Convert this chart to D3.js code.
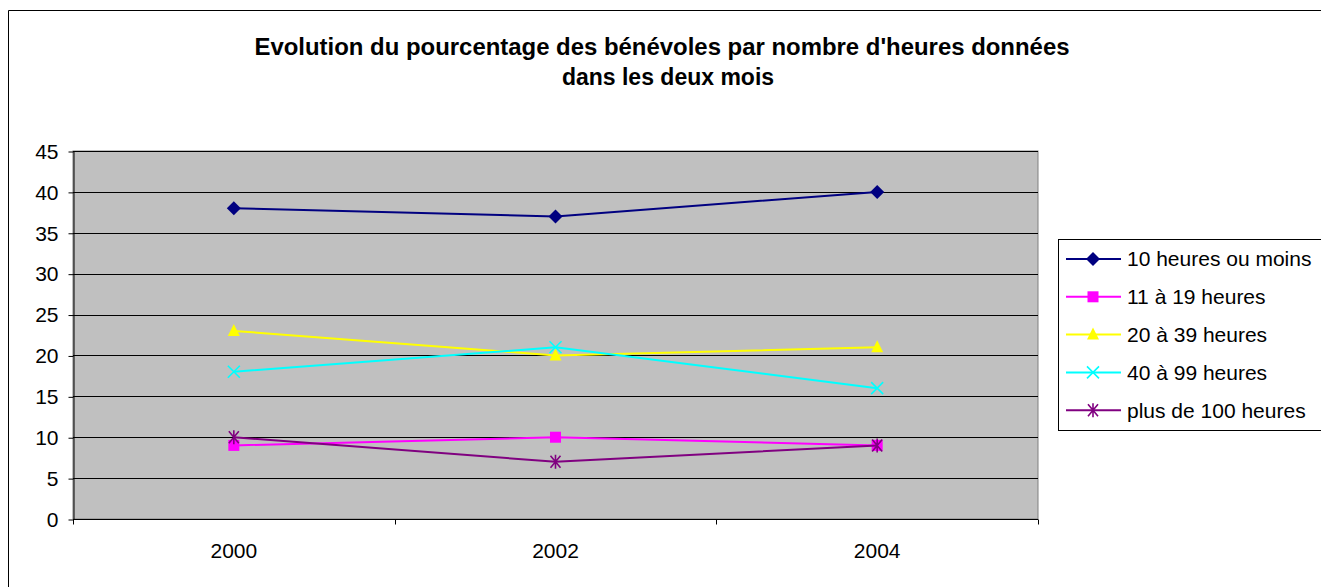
<!DOCTYPE html>
<html>
<head>
<meta charset="utf-8">
<script src="https://cdn.jsdelivr.net/npm/d3@7"></script>
<style>
  body { margin: 0; background: #fff; }
  svg { display: block; font-family: "Liberation Sans", Arial, sans-serif; }
</style>
</head>
<body>
<svg id="chart" width="1321" height="587"></svg>
<script>
// data
const years = ["2000", "2002", "2004"];
const seriesNames = ["10 heures ou moins", "11 à 19 heures", "20 à 39 heures", "40 à 99 heures", "plus de 100 heures"];
const h10 = [38, 37, 40];
const h11_19 = [9, 10, 9];
const h20_39 = [23, 20, 21];
const h40_99 = [18, 21, 16];
const h100 = [10, 7, 9];
const yTicks = [0, 5, 10, 15, 20, 25, 30, 35, 40, 45];

const series = [
  { name: seriesNames[0], values: h10, color: "#000080", symbol: "diamond" },
  { name: seriesNames[1], values: h11_19, color: "#FF00FF", symbol: "square" },
  { name: seriesNames[2], values: h20_39, color: "#FFFF00", symbol: "triangle" },
  { name: seriesNames[3], values: h40_99, color: "#00FFFF", symbol: "x" },
  { name: seriesNames[4], values: h100, color: "#800080", symbol: "star" }
];

const svg = d3.select("#chart");

// outer chart border (only top/left visible)
svg.append("path")
  .attr("d", "M8.5,587 V10.5 H1321")
  .attr("fill", "none")
  .attr("stroke", "#000")
  .attr("stroke-width", 1);

// title
svg.append("text")
  .attr("x", 662).attr("y", 55)
  .attr("text-anchor", "middle")
  .style("font-size", "23px").style("font-weight", "bold")
  .attr("textLength", 815).attr("lengthAdjust", "spacingAndGlyphs")
  .text("Evolution du pourcentage des bénévoles par nombre d'heures données");
svg.append("text")
  .attr("x", 668).attr("y", 85)
  .attr("text-anchor", "middle")
  .style("font-size", "23px").style("font-weight", "bold")
  .text("dans les deux mois");

// plot area
const plot = { left: 73, right: 1038, top: 151, bottom: 519 };

const x = d3.scaleBand().domain(years).range([plot.left, plot.right]);
const y = d3.scaleLinear().domain([0, 45]).range([plot.bottom, plot.top]);

svg.append("rect")
  .attr("x", plot.left).attr("y", plot.top)
  .attr("width", plot.right - plot.left).attr("height", plot.bottom - plot.top)
  .attr("fill", "#C0C0C0")
  .attr("stroke", "#808080");

// gridlines
svg.append("g")
  .selectAll("line")
  .data(yTicks.filter(d => d > 0))
  .join("line")
  .attr("x1", plot.left).attr("x2", plot.right)
  .attr("y1", d => Math.round(y(d)) + 0.5).attr("y2", d => Math.round(y(d)) + 0.5)
  .attr("stroke", "#000");

// y axis
const yAxis = svg.append("g")
  .attr("transform", `translate(${plot.left + 0.5},0.5)`)
  .call(d3.axisLeft(y).tickValues(yTicks).tickSize(5).tickPadding(10).tickSizeOuter(0));
yAxis.select(".domain").attr("stroke", "#000");
yAxis.selectAll("text").style("font-size", "21px").attr("fill", "#000")
  .attr("font-family", "Liberation Sans, Arial, sans-serif");

// x axis with ticks on band edges
const xAxis = svg.append("g")
  .attr("transform", `translate(0,${plot.bottom + 0.5})`);
xAxis.append("line")
  .attr("x1", plot.left).attr("x2", plot.right)
  .attr("stroke", "#000");
const edges = years.map(d => x(d)).concat([x(years[years.length - 1]) + x.bandwidth()]);
xAxis.selectAll(".edge")
  .data(edges)
  .join("line")
  .attr("class", "edge")
  .attr("x1", d => Math.round(d) + 0.5).attr("x2", d => Math.round(d) + 0.5)
  .attr("y1", 0).attr("y2", 5)
  .attr("stroke", "#000");
xAxis.selectAll(".lbl")
  .data(years)
  .join("text")
  .attr("class", "lbl")
  .attr("x", d => x(d) + x.bandwidth() / 2)
  .attr("y", 38)
  .attr("text-anchor", "middle")
  .style("font-size", "21px")
  .text(d => d);

// markers
function drawMarker(g, symbol, color, cx, cy) {
  if (symbol === "diamond") {
    g.append("path").attr("d", `M${cx},${cy - 7}L${cx + 7},${cy}L${cx},${cy + 7}L${cx - 7},${cy}Z`)
      .attr("fill", color);
  } else if (symbol === "square") {
    g.append("rect").attr("x", cx - 5.5).attr("y", cy - 5.5).attr("width", 11).attr("height", 11)
      .attr("fill", color);
  } else if (symbol === "triangle") {
    g.append("path").attr("d", `M${cx},${cy - 7}L${cx + 6},${cy + 5}L${cx - 6},${cy + 5}Z`)
      .attr("fill", color);
  } else if (symbol === "x") {
    g.append("path").attr("d", `M${cx - 6},${cy - 6}L${cx + 6},${cy + 6}M${cx + 6},${cy - 6}L${cx - 6},${cy + 6}`)
      .attr("stroke", color).attr("stroke-width", 1.6).attr("fill", "none");
  } else if (symbol === "star") {
    g.append("path").attr("d", `M${cx - 5},${cy - 6}L${cx + 5},${cy + 6}M${cx + 5},${cy - 6}L${cx - 5},${cy + 6}M${cx},${cy - 7}V${cy + 7}`)
      .attr("stroke", color).attr("stroke-width", 1.6).attr("fill", "none");
  }
}

const line = d3.line()
  .x((d, i) => x(years[i]) + x.bandwidth() / 2)
  .y(d => y(d));

series.forEach(s => {
  const g = svg.append("g");
  g.append("path")
    .datum(s.values)
    .attr("fill", "none")
    .attr("stroke", s.color)
    .attr("stroke-width", 2)
    .attr("d", line);
  s.values.forEach((v, i) => {
    drawMarker(g, s.symbol, s.color, x(years[i]) + x.bandwidth() / 2, y(v));
  });
});

// legend
const legend = svg.append("g");
legend.append("rect")
  .attr("x", 1058.5).attr("y", 239.5)
  .attr("width", 270).attr("height", 191)
  .attr("fill", "#fff").attr("stroke", "#000");

series.forEach((s, i) => {
  const ly = 259 + i * 37.8;
  const g = legend.append("g");
  g.append("line")
    .attr("x1", 1066).attr("x2", 1121)
    .attr("y1", ly).attr("y2", ly)
    .attr("stroke", s.color).attr("stroke-width", 2);
  drawMarker(g, s.symbol, s.color, 1093, ly);
  g.append("text")
    .attr("x", 1127).attr("y", ly)
    .attr("dy", "0.35em")
    .style("font-size", "21px")
    .text(s.name);
});
</script>
</body>
</html>
